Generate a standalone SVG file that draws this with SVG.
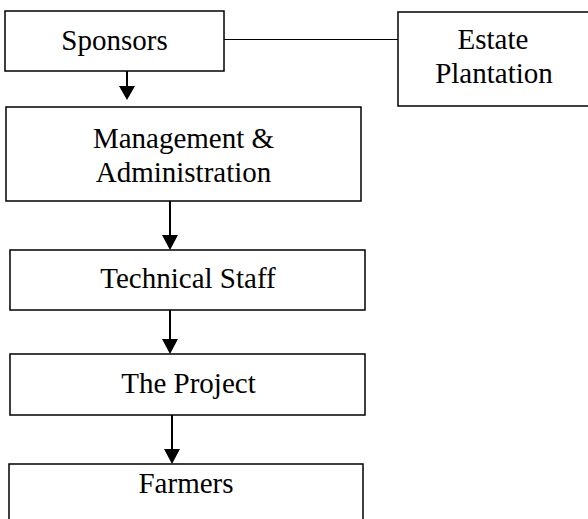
<svg xmlns="http://www.w3.org/2000/svg" width="588" height="519" viewBox="0 0 588 519">
<style>
.box{fill:#fff;stroke:#000;stroke-width:1.5}
.t{font-family:"Liberation Serif","Times New Roman",serif;font-size:29px;fill:#000;text-anchor:middle}
.ar{stroke:#000;stroke-width:2;fill:none}
.ln{stroke:#000;stroke-width:1.2;fill:none}
</style>
<rect width="588" height="519" fill="#fff"/>
<g id="connectors">
<line class="ln" x1="224" y1="39.5" x2="398" y2="39.5"/>
<path d="M127,71 V87" class="ar"/><path d="M119,86 L135,86 L127,100 Z"/>
<path d="M170,201 V236" class="ar"/><path d="M162,235 L178,235 L170,250 Z"/>
<path d="M170,307 V340" class="ar"/><path d="M162,339 L178,339 L170,354 Z"/>
<path d="M172,415 V450" class="ar"/><path d="M164,449 L180,449 L172,464 Z"/>
</g>
<g id="sponsors">
<rect class="box" x="5" y="11" width="219" height="60"/>
<text class="t" x="114.5" y="50">Sponsors</text>
</g>
<g id="estate">
<rect class="box" x="398" y="12" width="192" height="94"/>
<text class="t" x="493" y="49">Estate</text>
<text class="t" x="494" y="83">Plantation</text>
</g>
<g id="management">
<rect class="box" x="6" y="107" width="355" height="94"/>
<text class="t" x="183.5" y="148">Management &amp;</text>
<text class="t" x="183.5" y="182">Administration</text>
</g>
<g id="technical">
<rect class="box" x="10" y="250" width="355" height="60"/>
<text class="t" x="188" y="288">Technical Staff</text>
</g>
<g id="project">
<rect class="box" x="10" y="354" width="355" height="61"/>
<text class="t" x="188.5" y="393">The Project</text>
</g>
<g id="farmers">
<rect class="box" x="9" y="464" width="354" height="70"/>
<text class="t" x="186" y="493">Farmers</text>
</g>
</svg>
